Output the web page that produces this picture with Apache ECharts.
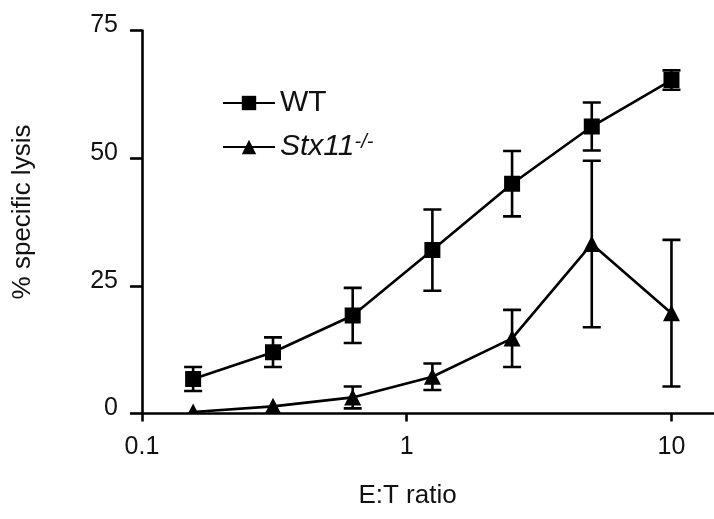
<!DOCTYPE html>
<html>
<head>
<meta charset="utf-8">
<script src="https://cdn.jsdelivr.net/npm/echarts@6/dist/echarts.min.js"></script>
<style>
html,body{margin:0;padding:0;background:#fff;}
#chart{width:714px;height:519px;}
</style>
</head>
<body>
<div id="chart"></div>
<script>
// E:T ratios (x, log scale)
const ratios = [0.156, 0.3125, 0.625, 1.25, 2.5, 5, 10];
// WT: mean % specific lysis and SEM
const wtMean = [6.75, 12.0, 19.2, 32.0, 45.0, 56.2, 65.3];
const wtSem  = [2.35, 2.9, 5.4, 7.95, 6.4, 4.7, 1.9];
// Stx11-/-: mean % specific lysis and SEM
const koMean = [0.3, 1.4, 3.15, 7.2, 14.7, 33.2, 19.65];
const koSem  = [0, 0, 2.15, 2.6, 5.6, 16.3, 14.35];
// axis ticks
const yTicks = [0, 25, 50, 75];
const xTicks = [0.1, 1, 10];
const seriesNames = ['WT', 'Stx11-/-'];

const FONT = "'Liberation Sans', Arial, sans-serif";
const INK = '#111';

function makeRender(shape) {
  return function (params, api) {
    const x = api.value(0), y = api.value(1), e = api.value(2);
    const c = api.coord([x, y]);
    const children = [];
    const sty = { stroke: '#000', lineWidth: 2.6 };
    if (e > 0) {
      const t = api.coord([x, y + e]);
      const b = api.coord([x, y - e]);
      const hw = 9;
      children.push({ type: 'line', shape: { x1: c[0], y1: t[1], x2: c[0], y2: b[1] }, style: sty });
      children.push({ type: 'line', shape: { x1: c[0] - hw, y1: t[1], x2: c[0] + hw, y2: t[1] }, style: sty });
      children.push({ type: 'line', shape: { x1: c[0] - hw, y1: b[1], x2: c[0] + hw, y2: b[1] }, style: sty });
    }
    if (shape === 'rect') {
      children.push({ type: 'rect', shape: { x: c[0] - 8, y: c[1] - 8, width: 16, height: 16 }, style: { fill: '#000' } });
    } else {
      children.push({ type: 'polygon', shape: { points: [[c[0], c[1] - 8.5], [c[0] + 8.5, c[1] + 8], [c[0] - 8.5, c[1] + 8]] }, style: { fill: '#000' } });
    }
    return { type: 'group', children: children };
  };
}

const chart = echarts.init(document.getElementById('chart'), null, { renderer: 'canvas' });
const option = {
  animation: false,
  backgroundColor: '#fff',
  textStyle: { fontFamily: FONT, color: INK },
  grid: { left: 142, top: 30.5, width: 612, height: 383, containLabel: false, outerBoundsMode: 'none' },
  legend: {
    orient: 'vertical',
    left: 222,
    top: 88,
    padding: 0,
    itemWidth: 52,
    itemHeight: 18,
    itemGap: 14,
    selectedMode: false,
    data: seriesNames,
    formatter: function (n) { return n === 'WT' ? '{n|WT}' : '{i|Stx11}{s|-/-}'; },
    textStyle: {
      fontFamily: FONT, color: INK, fontSize: 30,
      rich: {
        n: { fontFamily: FONT, fontSize: 30, lineHeight: 30, color: INK },
        i: { fontFamily: FONT, fontSize: 30, lineHeight: 30, fontStyle: 'italic', color: INK, verticalAlign: 'bottom' },
        s: { fontFamily: FONT, fontSize: 20, lineHeight: 20, fontStyle: 'italic', color: INK, verticalAlign: 'top' }
      }
    }
  },
  xAxis: {
    type: 'log',
    logBase: 10,
    min: 0.1,
    max: 20.5,
    axisLine: { show: true, onZero: false, lineStyle: { color: '#000', width: 2.6 } },
    axisTick: { show: true, length: 8, lineStyle: { color: '#000', width: 2.6 } },
    minorTick: { show: false },
    splitLine: { show: false },
    axisLabel: {
      fontFamily: FONT, fontSize: 25, color: INK, margin: 21, showMaxLabel: false,
      formatter: function (v) { return xTicks.some(t => Math.abs(t - v) < 1e-9) ? String(v) : ''; }
    },
    name: 'E:T ratio',
    nameLocation: 'middle',
    nameGap: 69,
    nameTextStyle: { fontFamily: FONT, fontSize: 26, color: INK, padding: [0, 81, 0, 0] }
  },
  yAxis: {
    type: 'value',
    min: yTicks[0],
    max: yTicks[yTicks.length - 1],
    interval: yTicks[1] - yTicks[0],
    axisLine: { show: true, onZero: false, lineStyle: { color: '#000', width: 2.6 } },
    axisTick: { show: true, length: 12, lineStyle: { color: '#000', width: 2.6 } },
    splitLine: { show: false },
    axisLabel: { fontFamily: FONT, fontSize: 25, color: INK, margin: 24, verticalAlign: 'bottom', lineHeight: 10 },
    name: '% specific lysis',
    nameLocation: 'middle',
    nameRotate: 90,
    nameGap: 106,
    nameTextStyle: { fontFamily: FONT, fontSize: 26, color: INK, padding: [0, 0, 0, 20] }
  },
  series: [
    {
      name: seriesNames[0], type: 'line', z: 2, silent: true,
      symbol: 'rect', showSymbol: false,
      data: ratios.map((r, i) => [r, wtMean[i]]),
      lineStyle: { color: '#000', width: 2.6 },
      itemStyle: { color: '#000' }
    },
    {
      name: seriesNames[1], type: 'line', z: 2, silent: true,
      symbol: 'triangle', showSymbol: false,
      data: ratios.map((r, i) => [r, koMean[i]]),
      lineStyle: { color: '#000', width: 2.6 },
      itemStyle: { color: '#000' }
    },
    {
      name: 'wt-marks', type: 'custom', z: 3, silent: true, clip: true,
      renderItem: makeRender('rect'),
      encode: { x: 0, y: 1 },
      data: ratios.map((r, i) => [r, wtMean[i], wtSem[i]])
    },
    {
      name: 'ko-marks', type: 'custom', z: 3, silent: true, clip: true,
      renderItem: makeRender('triangle'),
      encode: { x: 0, y: 1 },
      data: ratios.map((r, i) => [r, koMean[i], koSem[i]])
    }
  ]
};
chart.setOption(option);
</script>
</body>
</html>
